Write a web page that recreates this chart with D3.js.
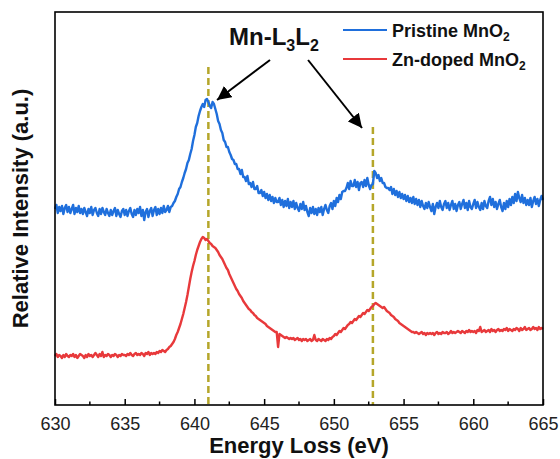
<!DOCTYPE html>
<html>
<head>
<meta charset="utf-8">
<script src="https://cdn.jsdelivr.net/npm/d3@7"></script>
<style>
  html, body { margin: 0; padding: 0; background: #fff; }
  svg { display: block; font-family: "Liberation Sans", Arial, sans-serif; }
</style>
</head>
<body>
<svg id="chart" width="560" height="459"></svg>
<script>
// EELS spectra, Mn L3/L2 edges. Energy grid: 630–665 eV, 0.1 eV per channel.
const energyStart = 630;
const energyStep = 0.1;

// Pristine MnO2 (arbitrary intensity units, offset above the doped spectrum)
const pristine = [
  196,200,192,198,194,199,191,197,200,193, // 630
  198,192,196,200,191,197,193,199,192,196, // 631
  191,197,193,189,196,192,198,190,195,197, // 632
  192,189,196,191,197,193,190,196,192,189, // 633
  195,190,194,197,189,195,191,188,194,196, // 634
  190,195,189,194,197,191,188,195,190,196, // 635
  192,198,189,195,185,193,196,188,194,197, // 636
  189,195,198,190,196,191,197,192,199,193, // 637
  195,199,193,198,199,202,204,208,211,216, // 638
  218,223,227,232,236,242,245,251,256,264, // 639
  270,278,282,289,294,298,301,298,305,306, // 640
  303,299,297,303,301,296,291,284,281,275, // 641
  272,265,263,258,258,253,250,246,245,241, // 642
  241,236,236,231,235,228,228,224,229,221, // 643
  222,218,223,216,216,219,212,212,215,209, // 644
  213,207,211,205,210,204,208,202,207,203, // 645
  203,207,200,205,198,204,199,206,197,203, // 646
  198,204,196,202,197,194,201,196,203,195, // 647
  199,193,189,197,192,198,191,196,190,197, // 648
  193,198,190,196,200,195,192,199,202,196, // 649
  204,199,207,203,210,206,213,214,214,217, // 650
  222,216,224,219,219,225,218,223,215,222, // 651
  223,218,225,219,227,220,216,220,221,234, // 652
  232,227,230,224,227,222,222,218,217,217, // 653
  215,218,211,216,210,214,208,213,207,211, // 654
  206,210,204,209,203,207,202,208,201,206, // 655
  200,205,198,204,199,196,202,197,203,198, // 656
  194,201,191,198,202,197,204,198,195,201, // 657
  204,197,202,195,200,204,196,201,194,200, // 658
  203,196,201,205,197,202,195,204,198,196, // 659
  201,205,197,203,198,195,202,196,204,199, // 660
  197,204,208,200,206,198,203,196,201,205, // 661
  198,194,202,196,204,198,206,200,208,202, // 662
  211,204,213,207,203,210,202,207,200,205, // 663
  200,207,198,204,208,201,206,199,205,209, // 664
  205                                      // 665
];

// Zn-doped MnO2
const doped = [
  49,51,48,50,49,47,50,48,51,49, // 630
  48,50,49,51,48,50,47,49,51,50, // 631
  49,47,50,48,51,49,50,48,50,52, // 632
  50,48,51,49,53,48,50,49,51,50, // 633
  48,50,49,51,50,48,50,49,51,50, // 634
  50,49,51,50,52,50,49,51,52,50, // 635
  51,50,52,51,49,52,51,53,50,52, // 636
  51,52,51,53,52,54,53,55,54,53, // 637
  55,56,58,59,61,63,66,70,73,77, // 638
  81,86,91,97,103,110,118,126,133,139, // 639
  144,150,155,159,163,166,168,167,165,166, // 640
  164,162,161,159,158,157,155,153,150,148, // 641
  146,143,140,137,135,131,128,125,122,119, // 642
  116,114,111,109,107,104,102,100,98,96, // 643
  95,93,92,90,89,87,86,85,84,83, // 644
  82,81,79,78,77,76,75,74,73,73, // 645
  58,71,70,69,68,67,68,67,66,67, // 646
  66,67,65,66,67,65,66,64,66,65, // 647
  66,64,65,66,64,65,70,65,64,66, // 648
  65,64,66,65,64,66,65,67,66,68, // 649
  69,71,70,72,74,73,75,77,76,78, // 650
  80,81,83,82,84,86,85,87,89,88, // 651
  90,92,91,93,95,94,96,98,99,101, // 652
  102,101,100,99,98,97,98,96,94,93, // 653
  92,90,89,88,86,85,84,82,81,80, // 654
  79,78,77,76,75,74,73,73,72,73, // 655
  72,71,72,73,71,72,70,72,71,72, // 656
  71,72,70,72,73,71,72,71,73,72, // 657
  72,73,71,72,74,72,73,72,73,74, // 658
  73,72,74,73,72,74,73,75,73,74, // 659
  73,74,72,75,74,78,73,74,75,73, // 660
  74,75,73,76,74,75,73,75,76,74, // 661
  75,74,76,75,77,74,76,75,74,76, // 662
  75,77,76,74,77,75,76,78,75,76, // 663
  77,75,76,78,76,77,75,78,76,77, // 664
  76                             // 665
];

const xTicks = [630, 635, 640, 645, 650, 655, 660, 665];
const xMinorTicks = [632.5, 637.5, 642.5, 647.5, 652.5, 657.5, 662.5];
const peakEnergies = [641.0, 652.8];     // Mn L3 and L2 edge positions
const peakLineTops = [338, 278];         // top of each marker line (intensity units)
const seriesNames = ["Pristine MnO", "Zn-doped MnO"];
const seriesColors = ["#1f6fdc", "#e8393b"];

const svg = d3.select("#chart");
const margin = { left: 55, top: 12, right: 543, bottom: 405 };

const x = d3.scaleLinear().domain([630, 665]).range([margin.left, margin.right]);
const y = d3.scaleLinear().domain([0, 393]).range([margin.bottom, margin.top]);

const toPoints = vals => vals.map((v, i) => [energyStart + i * energyStep, v]);
const line = d3.line().x(d => x(d[0])).y(d => y(d[1]));

// Peak marker lines
svg.append("g").selectAll("line").data(peakEnergies).join("line")
  .attr("x1", d => x(d)).attr("x2", d => x(d))
  .attr("y1", (d, i) => y(peakLineTops[i])).attr("y2", y(0))
  .attr("stroke", "#b5a62a").attr("stroke-width", 2.5)
  .attr("stroke-dasharray", "7,4");

// Spectra
[pristine, doped].forEach((vals, i) => {
  svg.append("path").datum(toPoints(vals))
    .attr("d", line).attr("fill", "none")
    .attr("stroke", seriesColors[i]).attr("stroke-width", 2.4)
    .attr("stroke-linejoin", "round");
});

// Bottom axis with inward ticks
const xAxis = svg.append("g").attr("transform", `translate(0,${margin.bottom})`);
xAxis.call(d3.axisBottom(x).tickValues(xTicks).tickSizeInner(-6).tickSizeOuter(0).tickPadding(12))
  .call(g => g.select(".domain").remove())
  .call(g => g.selectAll("line").attr("stroke", "#000").attr("stroke-width", 1.5))
  .call(g => g.selectAll("text").attr("font-size", 18).attr("fill", "#222")
    .attr("font-family", "'Liberation Sans', Arial, sans-serif"));
xAxis.selectAll(".minor").data(xMinorTicks).join("line").attr("class", "minor")
  .attr("x1", d => x(d)).attr("x2", d => x(d)).attr("y1", 0).attr("y2", -3.5)
  .attr("stroke", "#000").attr("stroke-width", 1.5);

// Plot frame
svg.append("rect")
  .attr("x", margin.left).attr("y", margin.top)
  .attr("width", margin.right - margin.left).attr("height", margin.bottom - margin.top)
  .attr("fill", "none").attr("stroke", "#000").attr("stroke-width", 1.6);

// Axis titles
svg.append("text")
  .attr("x", (margin.left + margin.right) / 2).attr("y", 453)
  .attr("text-anchor", "middle").attr("font-size", 22).attr("font-weight", "bold")
  .attr("fill", "#111").text("Energy Loss (eV)");
svg.append("text")
  .attr("transform", `translate(28,${(margin.top + margin.bottom) / 2}) rotate(-90)`)
  .attr("text-anchor", "middle").attr("font-size", 22).attr("font-weight", "bold")
  .attr("fill", "#111").text("Relative Intensity (a.u.)");

// Edge label with arrows
const label = svg.append("text")
  .attr("x", x(645.7)).attr("y", y(360))
  .attr("text-anchor", "middle").attr("font-size", 24).attr("font-weight", "bold")
  .attr("fill", "#111");
label.append("tspan").text("Mn-L");
label.append("tspan").attr("font-size", 16).attr("dy", 6).text("3");
label.append("tspan").attr("dy", -6).text("L");
label.append("tspan").attr("font-size", 16).attr("dy", 6).text("2");

svg.append("defs").append("marker")
  .attr("id", "head").attr("viewBox", "0 0 10 10").attr("refX", 10).attr("refY", 5)
  .attr("markerWidth", 7).attr("markerHeight", 7).attr("markerUnits", "strokeWidth")
  .attr("orient", "auto")
  .append("path").attr("d", "M0,0 L10,5 L0,10 Z").attr("fill", "#000");

const arrows = [
  { from: [645.42, 345], to: [641.62, 305] },
  { from: [648.15, 345], to: [652.02, 277] }
];
svg.append("g").selectAll("line").data(arrows).join("line")
  .attr("x1", d => x(d.from[0])).attr("y1", d => y(d.from[1]))
  .attr("x2", d => x(d.to[0])).attr("y2", d => y(d.to[1]))
  .attr("stroke", "#000").attr("stroke-width", 2)
  .attr("marker-end", "url(#head)");

// Legend
const legend = svg.append("g");
seriesNames.forEach((name, i) => {
  const ly = 30 + i * 29;
  legend.append("line").attr("x1", 343).attr("x2", 387).attr("y1", ly).attr("y2", ly)
    .attr("stroke", seriesColors[i]).attr("stroke-width", 2);
  const t = legend.append("text").attr("x", 392).attr("y", ly + 7)
    .attr("font-size", 18).attr("font-weight", "bold").attr("fill", "#111");
  t.append("tspan").text(name);
  t.append("tspan").attr("font-size", 12).attr("dy", 4).text("2");
});
</script>
</body>
</html>
